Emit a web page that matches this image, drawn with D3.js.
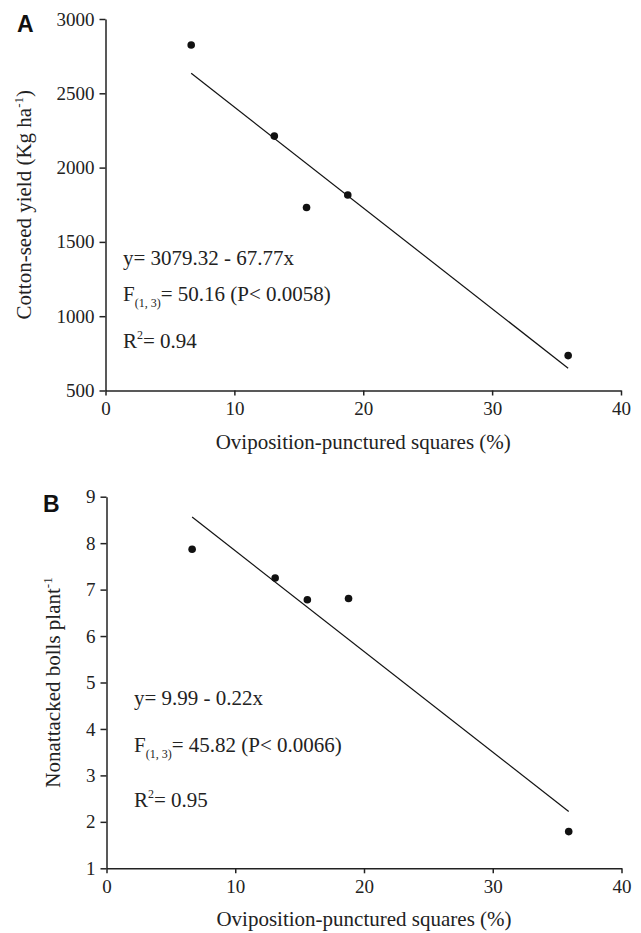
<!DOCTYPE html>
<html>
<head>
<meta charset="utf-8">
<script src="https://cdn.jsdelivr.net/npm/d3@7"></script>
<style>
  body { margin: 0; background: #fff; }
  svg { display: block; }
  text { font-family: "Liberation Serif", "Times New Roman", serif; fill: #222; }
  .panel-letter { font-family: "Liberation Sans", Arial, sans-serif; font-weight: bold; font-size: 23px; fill: #111; }
</style>
</head>
<body>
<svg width="641" height="933"></svg>
<script>
// oviposition-punctured squares (%), same for both panels
let xPunctured = [6.65, 13.1, 15.6, 18.8, 35.9]
// panel A: cotton-seed yield (Kg/ha)
let yieldA = [2825, 2212, 1731, 1816, 735]
// panel B: nonattacked bolls per plant
let bollsB = [7.87, 7.25, 6.78, 6.81, 1.79]

let xTicks = [0, 10, 20, 30, 40]
let yTicksA = [500, 1000, 1500, 2000, 2500, 3000]
let yTicksB = [1, 2, 3, 4, 5, 6, 7, 8, 9]

let statsA = ['y= 3079.32 - 67.77x', '50.16 (P< 0.0058)', '0.94']
let statsB = ['y= 9.99 - 0.22x', '45.82 (P< 0.0066)', '0.95']

let svg = d3.select('svg')
let serif = '"Liberation Serif", "Times New Roman", serif'

// least squares fit, used for the drawn regression line
let fit = (xs, ys) => {
    let mx = d3.mean(xs), my = d3.mean(ys)
    let sxy = d3.sum(xs, (x, i) => (x - mx) * (ys[i] - my))
    let sxx = d3.sum(xs, (x) => (x - mx) * (x - mx))
    let b = sxy / sxx
    return {a: my - b * mx, b: b}
}

let drawPanel = (opt) => {
    let g = svg.append('g')
    let xScale = d3.scaleLinear().domain([0, 40]).range([opt.left, opt.right])
    let yScale = d3.scaleLinear().domain(opt.yDomain).range([opt.bottom, opt.top])

    let xAxis = d3.axisBottom(xScale).tickValues(xTicks).tickFormat(d3.format('d'))
        .tickSize(5).tickSizeOuter(0).tickPadding(6)
    let yAxis = d3.axisLeft(yScale).tickValues(opt.yTicks).tickFormat(d3.format('d'))
        .tickSize(6).tickSizeOuter(0).tickPadding(5)

    g.append('g')
        .attr('transform', 'translate(0,' + opt.bottom + ')')
        .call(xAxis)
    g.append('g')
        .attr('transform', 'translate(' + opt.left + ',0)')
        .call(yAxis)

    g.selectAll('.domain, .tick line')
        .attr('stroke', '#222')
        .attr('stroke-width', 1.5)
    g.selectAll('.tick text')
        .attr('fill', '#222')
        .style('font-family', serif)
        .style('font-size', '19px')

    // regression line over the range of the data
    let f = fit(xPunctured, opt.ys)
    let xr = d3.extent(xPunctured)
    g.append('line')
        .attr('x1', xScale(xr[0]))
        .attr('y1', yScale(f.a + f.b * xr[0]))
        .attr('x2', xScale(xr[1]))
        .attr('y2', yScale(f.a + f.b * xr[1]))
        .attr('stroke', '#111')
        .attr('stroke-width', 1.2)

    g.selectAll('circle')
        .data(xPunctured)
        .enter()
        .append('circle')
        .attr('cx', (d) => xScale(d))
        .attr('cy', (d, i) => yScale(opt.ys[i]))
        .attr('r', 3.8)
        .attr('fill', '#111')

    // panel letter
    g.append('text')
        .attr('class', 'panel-letter')
        .attr('x', opt.letterX)
        .attr('y', opt.letterY)
        .text(opt.letter)

    // axis titles
    g.append('text')
        .attr('x', (opt.left + opt.right) / 2)
        .attr('y', opt.bottom + 58)
        .attr('text-anchor', 'middle')
        .style('font-size', '21px')
        .text('Oviposition-punctured squares (%)')

    let yl = g.append('text')
        .attr('transform', 'translate(' + opt.yLabelX + ',' + (opt.top + opt.bottom) / 2 + ') rotate(-90)')
        .attr('text-anchor', 'middle')
        .style('font-size', '21px')
    yl.append('tspan').text(opt.yLabel)
    yl.append('tspan').attr('dy', -8).style('font-size', '13px').text('-1')
    if (opt.yLabelEnd) {
        yl.append('tspan').attr('dy', 8).text(opt.yLabelEnd)
    }

    // statistics
    let sx = opt.statX
    let t1 = g.append('text').attr('x', sx).attr('y', opt.statY[0]).style('font-size', '21px')
    t1.text(opt.stats[0])

    let t2 = g.append('text').attr('x', sx).attr('y', opt.statY[1]).style('font-size', '21px')
    t2.append('tspan').text('F')
    t2.append('tspan').attr('dy', 6).style('font-size', '12px').text('(1, 3)')
    t2.append('tspan').attr('dy', -6).text('= ' + opt.stats[1])

    let t3 = g.append('text').attr('x', sx).attr('y', opt.statY[2]).style('font-size', '21px')
    t3.append('tspan').text('R')
    t3.append('tspan').attr('dy', -9).style('font-size', '12px').text('2')
    t3.append('tspan').attr('dy', 9).text('= ' + opt.stats[2])
}

drawPanel({
    letter: 'A', letterX: 17, letterY: 32,
    left: 105.5, right: 621, top: 19, bottom: 390.5,
    yDomain: [500, 3000], yTicks: yTicksA, ys: yieldA,
    yLabel: 'Cotton-seed yield (Kg ha', yLabelEnd: ')', yLabelX: 31,
    stats: statsA, statX: 123, statY: [265, 301, 348]
})

drawPanel({
    letter: 'B', letterX: 43, letterY: 511.5,
    left: 106.5, right: 621.5, top: 496.7, bottom: 868.3,
    yDomain: [1, 9], yTicks: yTicksB, ys: bollsB,
    yLabel: 'Nonattacked bolls plant', yLabelEnd: null, yLabelX: 60,
    stats: statsB, statX: 134, statY: [705, 752, 807]
})
</script>
</body>
</html>
